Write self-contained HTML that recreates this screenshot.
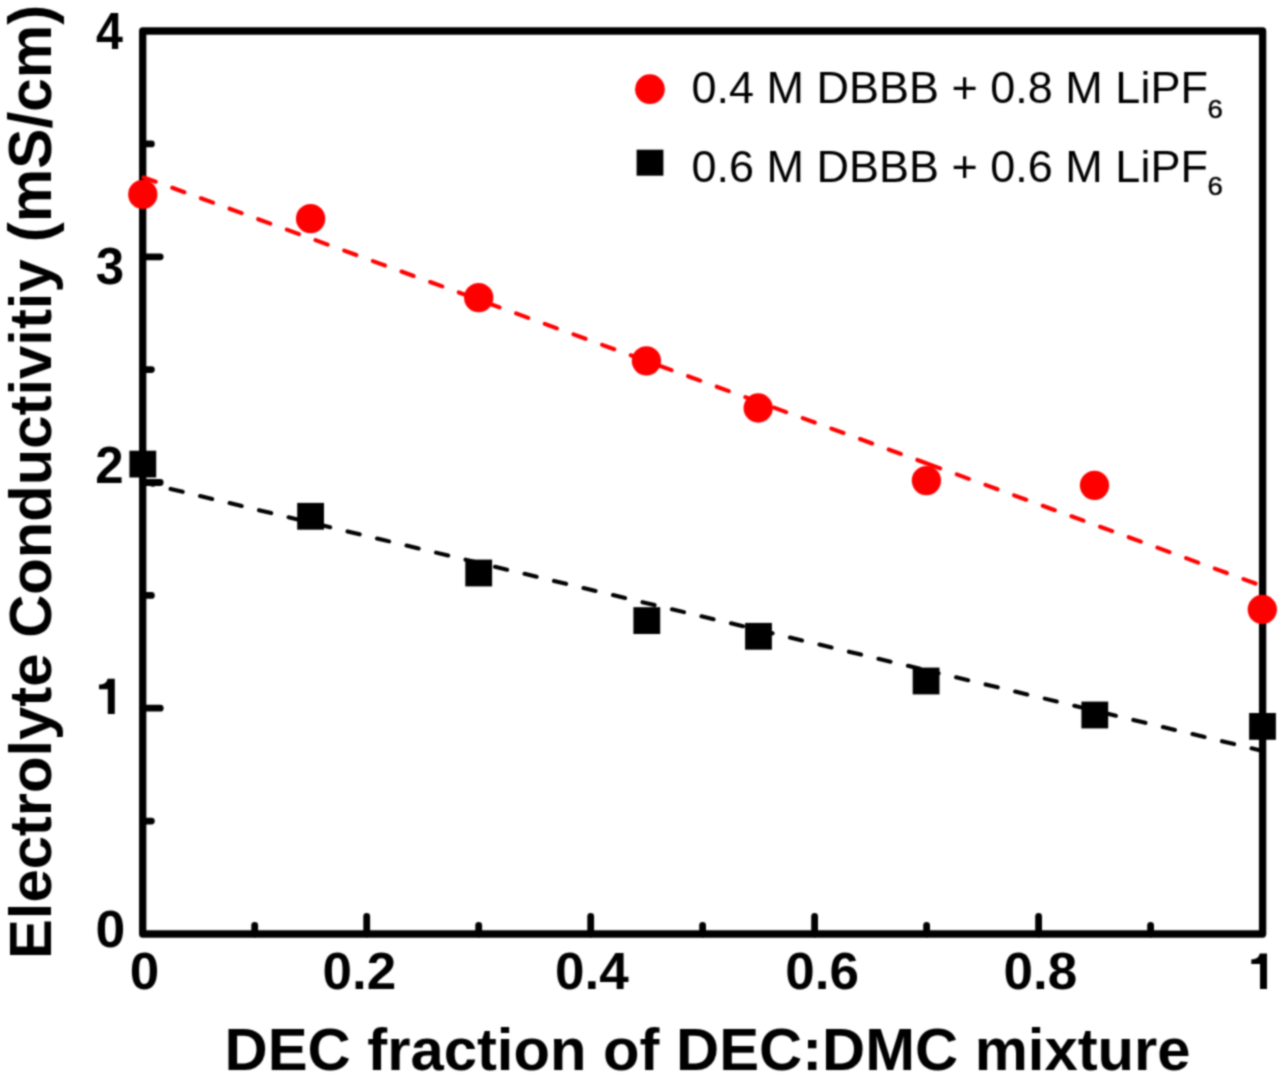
<!DOCTYPE html>
<html><head><meta charset="utf-8"><style>
html,body{margin:0;padding:0;background:#fff;}
svg{display:block;}
</style></head><body>
<svg width="1280" height="1084" viewBox="0 0 1280 1084">
<defs><filter id="bl" x="0" y="0" width="1280" height="1084" filterUnits="userSpaceOnUse" color-interpolation-filters="sRGB"><feConvolveMatrix order="5" kernelMatrix="0.00048 0.00501 0.01095 0.00501 0.00048 0.00501 0.05222 0.11405 0.05222 0.00501 0.01095 0.11405 0.24912 0.11405 0.01095 0.00501 0.05222 0.11405 0.05222 0.00501 0.00048 0.00501 0.01095 0.00501 0.00048" divisor="1" edgeMode="duplicate"/></filter></defs>
<rect width="1280" height="1084" fill="#fff"/>
<g filter="url(#bl)">
<rect x="142.7" y="31.0" width="1119.9" height="903.0" fill="none" stroke="#000" stroke-width="7.3" stroke-linejoin="round"/>
<line x1="142.7" y1="821.1" x2="151.4" y2="821.1" stroke="#000" stroke-width="6.8" stroke-linecap="round"/>
<line x1="142.7" y1="708.2" x2="160.2" y2="708.2" stroke="#000" stroke-width="6.8" stroke-linecap="round"/>
<line x1="142.7" y1="595.4" x2="151.4" y2="595.4" stroke="#000" stroke-width="6.8" stroke-linecap="round"/>
<line x1="142.7" y1="482.5" x2="160.2" y2="482.5" stroke="#000" stroke-width="6.8" stroke-linecap="round"/>
<line x1="142.7" y1="369.6" x2="151.4" y2="369.6" stroke="#000" stroke-width="6.8" stroke-linecap="round"/>
<line x1="142.7" y1="256.8" x2="160.2" y2="256.8" stroke="#000" stroke-width="6.8" stroke-linecap="round"/>
<line x1="142.7" y1="143.9" x2="151.4" y2="143.9" stroke="#000" stroke-width="6.8" stroke-linecap="round"/>
<line x1="254.7" y1="934.0" x2="254.7" y2="925.3" stroke="#000" stroke-width="6.8" stroke-linecap="round"/>
<line x1="366.7" y1="934.0" x2="366.7" y2="916.5" stroke="#000" stroke-width="6.8" stroke-linecap="round"/>
<line x1="478.7" y1="934.0" x2="478.7" y2="925.3" stroke="#000" stroke-width="6.8" stroke-linecap="round"/>
<line x1="590.7" y1="934.0" x2="590.7" y2="916.5" stroke="#000" stroke-width="6.8" stroke-linecap="round"/>
<line x1="702.6" y1="934.0" x2="702.6" y2="925.3" stroke="#000" stroke-width="6.8" stroke-linecap="round"/>
<line x1="814.6" y1="934.0" x2="814.6" y2="916.5" stroke="#000" stroke-width="6.8" stroke-linecap="round"/>
<line x1="926.6" y1="934.0" x2="926.6" y2="925.3" stroke="#000" stroke-width="6.8" stroke-linecap="round"/>
<line x1="1038.6" y1="934.0" x2="1038.6" y2="916.5" stroke="#000" stroke-width="6.8" stroke-linecap="round"/>
<line x1="1150.6" y1="934.0" x2="1150.6" y2="925.3" stroke="#000" stroke-width="6.8" stroke-linecap="round"/>
<text transform="translate(95.99 49) scale(0.95 1)" font-family='"Liberation Sans", sans-serif' font-weight="bold" font-size="51">4</text>
<text x="95.70" y="284" font-family='"Liberation Sans", sans-serif' font-weight="bold" font-size="51">3</text>
<text x="95.31" y="483" font-family='"Liberation Sans", sans-serif' font-weight="bold" font-size="51">2</text>
<text transform="translate(95.45 947) scale(1.05 1)" font-family='"Liberation Sans", sans-serif' font-weight="bold" font-size="51">0</text>
<path role="img" aria-label="1" d="M114.8,714.0 L107.8,714.0 L107.8,689.2 L99.0,689.2 L99.0,684.5 C104.0,684.3 106.3,683.2 107.6,678.7 L114.8,678.7 Z" fill="#000"/>
<text transform="translate(129.69 989) scale(1.04 1)" font-family='"Liberation Sans", sans-serif' font-weight="bold" font-size="51">0</text>
<text transform="translate(322.55 989) scale(1.04 1)" font-family='"Liberation Sans", sans-serif' font-weight="bold" font-size="51">0.2</text>
<text transform="translate(555.08 989) scale(1.04 1)" font-family='"Liberation Sans", sans-serif' font-weight="bold" font-size="51">0.4</text>
<text transform="translate(785.32 989) scale(1.04 1)" font-family='"Liberation Sans", sans-serif' font-weight="bold" font-size="51">0.6</text>
<text transform="translate(1003.50 989) scale(1.04 1)" font-family='"Liberation Sans", sans-serif' font-weight="bold" font-size="51">0.8</text>
<path role="img" aria-label="1" d="M1267.0,988.9 L1260.0,988.9 L1260.0,964.1 L1251.3,964.1 L1251.3,959.4 C1256.3,959.2 1258.5,958.1 1259.8,953.6 L1267.0,953.6 Z" fill="#000"/>
<text x="224.54" y="1069.65" font-family='"Liberation Sans", sans-serif' font-weight="bold" font-size="59.75">DEC fraction of DEC:DMC mixture</text>
<text transform="translate(50.80 959.04) rotate(-90)" font-family='"Liberation Sans", sans-serif' font-weight="bold" font-size="59.75">Electrolyte</text>
<text transform="translate(50.80 637.78) rotate(-90)" font-family='"Liberation Sans", sans-serif' font-weight="bold" font-size="59.75">Conductivitiy</text>
<text transform="translate(50.80 242.25) rotate(-90)" font-family='"Liberation Sans", sans-serif' font-weight="bold" font-size="60.2">(mS/cm)</text>
<line x1="143.60" y1="177.33" x2="926.20" y2="463.21" stroke="#ff0000" stroke-width="4.1" stroke-linecap="round" stroke-dasharray="12.88 17.63"/>
<line x1="928.10" y1="463.91" x2="1262.60" y2="586.10" stroke="#ff0000" stroke-width="4.1" stroke-linecap="round" stroke-dasharray="12.88 17.64"/>
<line x1="141.10" y1="481.87" x2="926.20" y2="670.20" stroke="#000" stroke-width="4.1" stroke-linecap="round" stroke-dasharray="12.44 17.89"/>
<line x1="926.50" y1="670.27" x2="1262.60" y2="750.90" stroke="#000" stroke-width="4.1" stroke-linecap="round" stroke-dasharray="12.44 17.95"/>
<circle cx="142.8" cy="194.4" r="14.65" fill="#ff0000"/>
<circle cx="310.6" cy="218.7" r="14.65" fill="#ff0000"/>
<circle cx="478.7" cy="297.7" r="14.65" fill="#ff0000"/>
<circle cx="646.4" cy="360.8" r="14.65" fill="#ff0000"/>
<circle cx="758.2" cy="408" r="14.65" fill="#ff0000"/>
<circle cx="926.4" cy="480.6" r="14.65" fill="#ff0000"/>
<circle cx="1094.5" cy="485.3" r="14.65" fill="#ff0000"/>
<circle cx="1262.3" cy="609.5" r="14.65" fill="#ff0000"/>
<rect x="129.40" y="450.70" width="26.8" height="26.8" fill="#000"/>
<rect x="297.20" y="502.90" width="26.8" height="26.8" fill="#000"/>
<rect x="465.30" y="559.60" width="26.8" height="26.8" fill="#000"/>
<rect x="633.40" y="607.20" width="26.8" height="26.8" fill="#000"/>
<rect x="745.10" y="622.90" width="26.8" height="26.8" fill="#000"/>
<rect x="912.70" y="667.60" width="26.8" height="26.8" fill="#000"/>
<rect x="1081.40" y="701.60" width="26.8" height="26.8" fill="#000"/>
<rect x="1249.10" y="713.00" width="26.8" height="26.8" fill="#000"/>
<circle cx="649.9" cy="89.2" r="14.9" fill="#ff0000"/>
<rect x="636.60" y="149.70" width="26.8" height="26.0" fill="#000"/>
<text x="691.44" y="103.1" font-family='"Liberation Sans", sans-serif' font-size="45">0.4 M DBBB + 0.8 M LiPF</text>
<text x="691.44" y="181.9" font-family='"Liberation Sans", sans-serif' font-size="45">0.6 M DBBB + 0.6 M LiPF</text>
<text transform="translate(1207.46 118) scale(1.1 1)" font-family='"Liberation Sans", sans-serif' font-size="25" stroke="#000" stroke-width="0.45">6</text>
<text transform="translate(1207.46 195) scale(1.1 1)" font-family='"Liberation Sans", sans-serif' font-size="25" stroke="#000" stroke-width="0.45">6</text>
</g>
</svg>
</body></html>
